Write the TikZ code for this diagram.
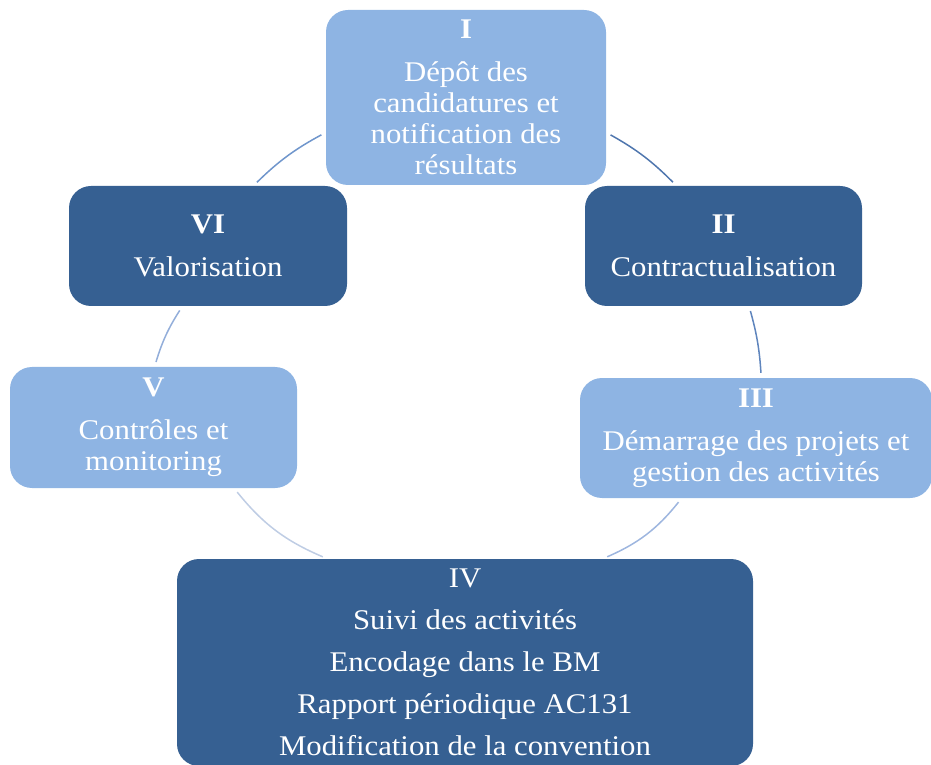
\documentclass[tikz,border=0pt]{standalone}
\usepackage{fontspec}
\setmainfont{Liberation Serif}[FakeStretch=1.08]
\usepackage{tikz}

\definecolor{lightblue}{HTML}{8EB4E3}
\definecolor{darkblue}{HTML}{366092}

\begin{document}
\begin{tikzpicture}[
		x=1pt,y=1pt,
		box/.style={rounded corners=22pt,inner sep=0pt,align=center,text=white,
			font=\fontsize{28.5}{31}\selectfont},
		lightbox/.style={box,fill=lightblue},
		darkbox/.style={box,fill=darkblue},
		link/.style={line width=1.5pt,shorten <=5pt,shorten >=5pt}
		]
		\useasboundingbox (0,0) rectangle (931,764);

		\path (466,666.5) node[lightbox,minimum width=280pt,minimum height=175pt] (depot)
			{\textbf{I}\\[12pt]Dépôt des\\candidatures et\\notification des\\résultats}
		 (723.5,518) node[darkbox,minimum width=277pt,minimum height=120pt] (contrat)
			{\textbf{II}\\[12pt]Contractualisation}
		 (756,326) node[lightbox,minimum width=352pt,minimum height=120pt] (demarrage)
			{\textbf{III}\\[12pt]Démarrage des projets et\\gestion des activités}
		 (465,101.5) node[darkbox,minimum width=576pt,minimum height=207pt] (suivi)
			{IV\\[11pt]Suivi des activités\\[11pt]Encodage dans le BM\\[11pt]Rapport périodique AC131\\[11pt]Modification de la convention}
		 (153.5,336.5) node[lightbox,minimum width=287pt,minimum height=121pt] (controle)
			{\textbf{V}\\[12pt]Contrôles et\\monitoring}
		 (208,518) node[darkbox,minimum width=278pt,minimum height=120pt] (valor)
			{\textbf{VI}\\[12pt]Valorisation};

		\draw[link,color={rgb,255:red,112;green,150;blue,204}] (valor.53) to[bend left=8] (depot.194.6);
		\draw[link,color={rgb,255:red,79;green,118;blue,174}] (depot.-14.5) to[bend left=8] (contrat.128);
		\draw[link,color={rgb,255:red,95;green,133;blue,189}] (contrat.-67) to[bend left=6] (demarrage.85);
		\draw[link,color={rgb,255:red,158;green,182;blue,223}] (demarrage.219) to[bend left=14] (suivi.37);
		\draw[link,color={rgb,255:red,191;green,205;blue,228}] (suivi.143) to[bend left=14] (controle.-37);
		\draw[link,color={rgb,255:red,147;green,174;blue,218}] (controle.89) to[bend left=8] (valor.247);

	\end{tikzpicture}
\end{document}
